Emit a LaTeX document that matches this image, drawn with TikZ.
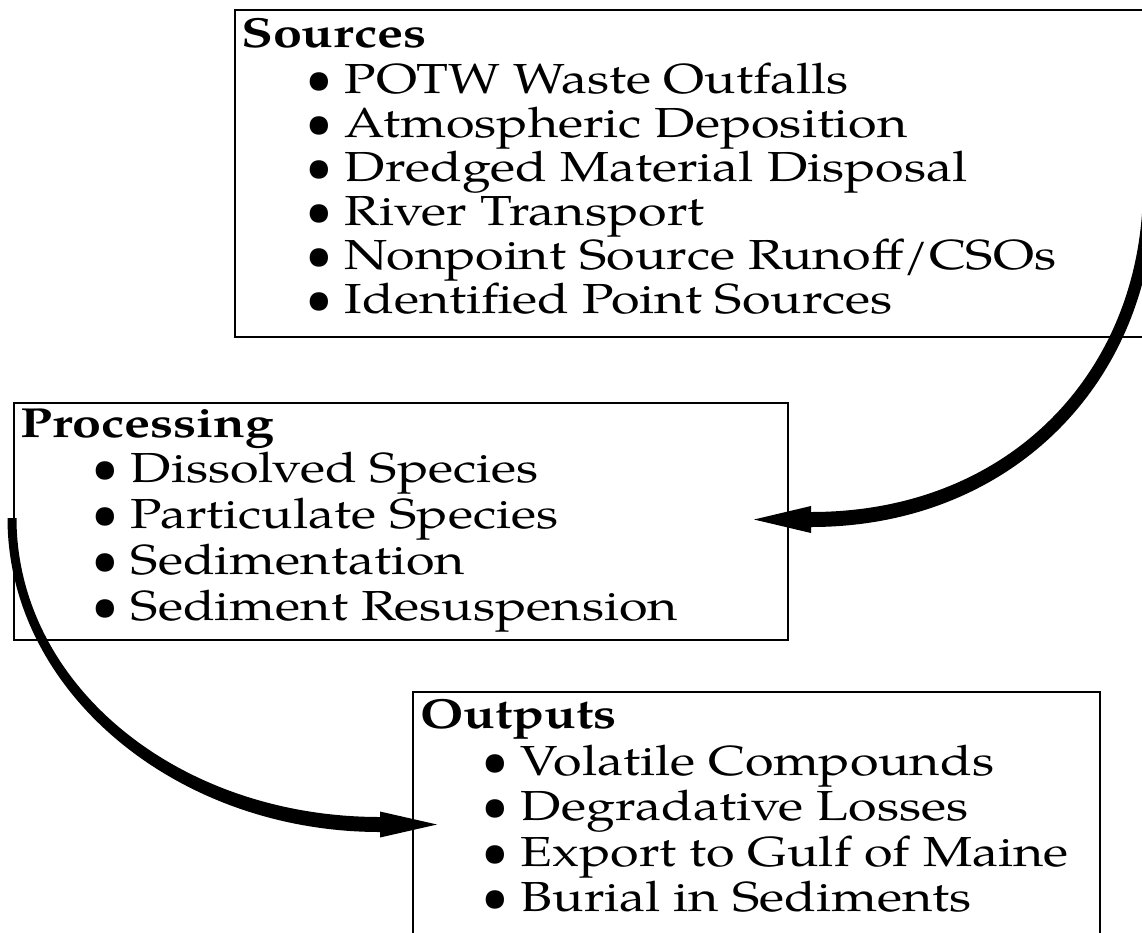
\documentclass[tikz,border=0pt]{standalone}
\usepackage{graphicx}
\usepackage{fontspec}
\setmainfont{texgyrepagella}[Extension=.otf, UprightFont=*-regular, BoldFont=*-bold, FakeStretch=1.24]
\usetikzlibrary{calc}
\newcommand\itembullet{\scalebox{0.88}[1.1]{\textbullet}}
\begin{document}
\begin{tikzpicture}[x=1pt,y=-1pt,
  frame/.style={draw, line width=2pt, inner sep=0pt, anchor=north west},
  head/.style={anchor=base west, inner sep=0pt, font=\fontsize{42}{44}\selectfont\bfseries},
  item/.style={anchor=base west, inner sep=0pt, font=\fontsize{42}{44}\selectfont},
  flowfill/.style={fill=black, draw=none}]
\useasboundingbox (0,0) rectangle (1142,932);
\clip (0,0) rectangle (1142,932);
% boxes
\node[frame, minimum width=940, minimum height=327] (src) at (234,9) {};
\node[frame, minimum width=774, minimum height=237] (proc) at (13,402) {};
\node[frame, minimum width=687, minimum height=270] (out) at (412,691) {};
% Sources text
\node[head] (srch) at (241,47) {Sources};
\foreach \t [count=\i] in {POTW Waste Outfalls, Atmospheric Deposition, Dredged Material Disposal, River Transport, Nonpoint Source Runoff/CSOs, Identified Point Sources}
  \node[item] (s\i) at (306,{93+44*(\i-1)}) {\itembullet\ \t};
% Processing text
\node[head] (proch) at (20,437) {Processing};
\foreach \t [count=\i] in {Dissolved Species, Particulate Species, Sedimentation, Sediment Resuspension}
  \node[item] (p\i) at (92,{482+46*(\i-1)}) {\itembullet\ \t};
% Outputs text
\node[head] (outh) at (420,728) {Outputs};
\foreach \t [count=\i] in {Volatile Compounds, Degradative Losses, Export to Gulf of Maine, Burial in Sediments}
  \node[item] (o\i) at (482,{775+45.5*(\i-1)}) {\itembullet\ \t};
% connector: Sources -> Processing (with head)
\coordinate (a1) at (1149,186);
\coordinate (h1) at ($(proc.east)+(22,-2)$);
\coordinate (t1) at ($(proc.east)+(-35,-2)$);
\fill[flowfill] ($(a1)+(6,0)$) .. controls +(0,196) and +(200,0) .. ($(h1)+(0,7.5)$)
  -- ($(h1)+(0,13.5)$) -- (t1) -- ($(h1)+(0,-13.5)$) -- ($(h1)+(0,-7.5)$)
  .. controls +(200,0) and +(0,184) .. ($(a1)+(-6,0)$) -- cycle;
% connector: Processing -> Outputs (tapered, with head)
\coordinate (a2) at ($(proc.west)+(-1,-3.5)$);
\coordinate (h2) at ($(out.north west)+(-32,133.5)$);
\coordinate (t2) at ($(out.north west)+(25,133.5)$);
\fill[flowfill] ($(a2)+(-4.5,0)$) .. controls +(0,174) and +(-203,0) .. ($(h2)+(0,7.5)$)
  -- ($(h2)+(0,13)$) -- (t2) -- ($(h2)+(0,-13)$) -- ($(h2)+(0,-7.5)$)
  .. controls +(-203,0) and +(0,166) .. ($(a2)+(4.5,0)$) -- cycle;
\end{tikzpicture}
\end{document}
